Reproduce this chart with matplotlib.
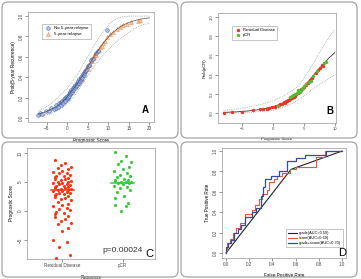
import numpy as np
import matplotlib
matplotlib.use("Agg")
import matplotlib.pyplot as plt
from matplotlib.patches import FancyBboxPatch
from matplotlib.transforms import IdentityTransform

# ---- panel A: logistic fit of 5-year recurrence ----
a_curve_x = [-7, -6, -5, -4, -3, -2, -1, 0, 1, 2, 3, 4, 5, 6, 7, 8, 9, 10, 11, 12, 13, 14, 15, 16, 17, 18, 20]
a_curve_y = [0.038, 0.049, 0.063, 0.081, 0.103, 0.131, 0.165, 0.206, 0.254, 0.308, 0.368, 0.433, 0.5,
             0.567, 0.632, 0.692, 0.746, 0.794, 0.835, 0.869, 0.897, 0.919, 0.937, 0.951, 0.962, 0.971, 0.983]
a_upper_y = [0.07, 0.09, 0.11, 0.14, 0.17, 0.21, 0.25, 0.29, 0.34, 0.40, 0.46, 0.53, 0.60,
             0.67, 0.74, 0.80, 0.86, 0.91, 0.95, 0.975, 0.99, 0.995, 1.0, 1.0, 1.0, 1.0, 1.0]
a_lower_y = [0.01, 0.02, 0.03, 0.04, 0.06, 0.08, 0.11, 0.14, 0.18, 0.23, 0.29, 0.35, 0.41,
             0.47, 0.53, 0.58, 0.63, 0.67, 0.71, 0.75, 0.78, 0.81, 0.84, 0.87, 0.89, 0.91, 0.93]
a_no_x = [-7.0, -6.6, -6.2, -5.1, -4.3, -3.8, -3.2, -2.8, -2.6, -2.2, -1.9, -1.5, -1.4, -1.2, -1.0, -0.8,
          -0.6, -0.5, -0.3, -0.1, 0.0, 0.2, 0.3, 0.4, 0.5, 0.7, 0.8, 0.9, 1.0, 1.1, 1.2, 1.4, 1.5, 1.7,
          1.8, 1.9, 2.0, 2.2, 2.4, 2.5, 2.6, 2.7, 2.9, 3.0, 3.2, 3.3, 3.4, 3.6, 3.8, 4.0, 4.1, 4.3, 4.6,
          5.0, 5.4, 5.8, 6.3, 6.9, 7.6, 9.7]
a_no_y = [0.03, 0.045, 0.04, 0.07, 0.065, 0.095, 0.09, 0.10, 0.125, 0.11, 0.145, 0.13, 0.155, 0.17, 0.15,
          0.185, 0.20, 0.17, 0.205, 0.19, 0.22, 0.20, 0.21, 0.235, 0.215, 0.25, 0.235, 0.24, 0.27, 0.26,
          0.25, 0.29, 0.27, 0.30, 0.31, 0.29, 0.325, 0.31, 0.345, 0.325, 0.34, 0.36, 0.345, 0.38, 0.36,
          0.38, 0.40, 0.39, 0.43, 0.42, 0.44, 0.46, 0.47, 0.51, 0.52, 0.57, 0.58, 0.64, 0.66, 0.86]
a_yes_x = [-1.0, 0.5, 1.3, 2.0, 2.6, 3.0, 3.4, 3.6, 3.8, 4.1, 4.4, 4.7, 4.9, 5.0, 5.2, 5.5, 5.7, 5.9, 6.0,
           6.2, 6.5, 6.6, 6.8, 7.0, 7.3, 7.7, 8.0, 8.4, 8.8, 9.2, 9.8, 10.5, 11.2, 12.0, 12.8, 13.5,
           14.5, 15.5, 17.3, 17.6]
a_yes_y = [0.17, 0.24, 0.27, 0.31, 0.35, 0.36, 0.41, 0.38, 0.42, 0.45, 0.46, 0.49, 0.50, 0.48, 0.52, 0.53,
           0.56, 0.58, 0.56, 0.59, 0.60, 0.62, 0.63, 0.62, 0.66, 0.67, 0.70, 0.71, 0.74, 0.76, 0.79, 0.82,
           0.84, 0.87, 0.89, 0.91, 0.925, 0.94, 0.955, 0.965]

# ---- panel B: logistic fit of pCR ----
b_curve_x = [-8, -6, -4, -2, 0, 1, 2, 3, 4, 5, 6, 7, 8, 9, 10]
b_curve_y = [0.01, 0.015, 0.025, 0.04, 0.07, 0.09, 0.12, 0.16, 0.21, 0.28, 0.35, 0.43, 0.50, 0.57, 0.63]
b_upper_y = [0.03, 0.045, 0.065, 0.09, 0.13, 0.16, 0.19, 0.23, 0.28, 0.36, 0.46, 0.57, 0.68, 0.78, 0.87]
b_lower_y = [0.0, 0.003, 0.008, 0.02, 0.03, 0.05, 0.07, 0.10, 0.14, 0.18, 0.23, 0.28, 0.32, 0.36, 0.40]
b_rd_x = [-8.0, -6.6, -5.0, -3.2, -2.1, -1.6, -1.0, -0.6, -0.2, 0.3, 1.0, 1.2, 1.5, 1.8, 2.0, 2.1, 2.2,
          2.4, 2.6, 2.7, 2.8, 3.0, 3.2, 3.4, 3.5, 3.6, 3.8, 4.0, 4.2, 4.4, 4.5, 4.6, 4.8, 5.0, 5.3, 5.6,
          6.0, 6.3, 7.0, 7.3, 7.6, 7.9, 8.1]
b_rd_y = [0.005, 0.012, 0.018, 0.03, 0.04, 0.045, 0.05, 0.06, 0.065, 0.07, 0.085, 0.10, 0.10, 0.12, 0.11,
          0.125, 0.13, 0.135, 0.14, 0.155, 0.15, 0.155, 0.17, 0.165, 0.18, 0.19, 0.20, 0.21, 0.22, 0.235,
          0.25, 0.24, 0.26, 0.27, 0.29, 0.31, 0.35, 0.37, 0.42, 0.45, 0.47, 0.50, 0.49]
b_pcr_x = [0.8, 2.8, 3.1, 3.3, 3.6, 3.9, 4.0, 4.1, 4.3, 4.5, 4.7, 4.9, 5.1, 5.4, 5.8, 6.1, 6.5, 7.2, 8.2, 8.6]
b_pcr_y = [0.08, 0.17, 0.18, 0.19, 0.20, 0.21, 0.24, 0.23, 0.22, 0.24, 0.25, 0.26, 0.28, 0.30, 0.33,
           0.34, 0.39, 0.44, 0.52, 0.53]

# ---- panel C: prognostic score by response ----
c_groups = ["Residual Disease", "pCR"]
c_rd = [8.8, 8.3, 7.9, 7.6, 7.4, 7.2, 7.0, 6.8, 6.6, 6.5, 6.3, 6.1, 6.0, 5.9, 5.7, 5.6, 5.5, 5.3, 5.2,
        5.1, 5.0, 4.9, 4.8, 4.7, 4.6, 4.5, 4.4, 4.3, 4.2, 4.1, 4.0, 3.9, 3.8, 3.8, 3.7, 3.6, 3.5, 3.4,
        3.3, 3.2, 3.1, 3.0, 2.9, 2.8, 2.6, 2.5, 2.3, 2.1, 1.9, 1.6, 1.3, 1.0, 0.8, 0.5, 0.3, 0.1,
        -0.2, -0.4, -0.6, -0.9, -1.1, -1.4, -1.7, -2.0, -2.3, -3.0, -3.4, -5.0, -5.3, -6.2, -7.6, -8.1]
c_pcr = [10.2, 9.6, 8.7, 8.4, 8.1, 7.6, 7.3, 7.0, 6.6, 6.3, 6.1, 5.8, 5.6, 5.4, 5.3, 5.2, 5.1, 5.0,
         5.0, 4.9, 4.8, 4.6, 4.4, 4.2, 4.0, 3.7, 3.3, 2.6, 2.2, 1.4, 1.0, 0.9, 0.0]
c_medians = [3.7, 4.9]
c_pvalue = "p=0.00024"

# ---- panel D: ROC curves ----
d_grade_fpr = [0.0, 0.56, 1.0]
d_grade_tpr = [0.0, 0.82, 1.0]
d_score_fpr = [0, 0, 0.01, 0.01, 0.03, 0.03, 0.06, 0.06, 0.09, 0.09, 0.12, 0.12, 0.16, 0.16, 0.22, 0.22,
               0.25, 0.25, 0.28, 0.28, 0.31, 0.31, 0.35, 0.35, 0.37, 0.37, 0.41, 0.41, 0.44, 0.44, 0.48,
               0.48, 0.55, 0.55, 0.60, 0.60, 0.78, 0.78, 0.85, 0.85, 1.0]
d_score_tpr = [0, 0.03, 0.03, 0.10, 0.10, 0.14, 0.14, 0.20, 0.20, 0.24, 0.24, 0.29, 0.29, 0.38, 0.38,
               0.42, 0.42, 0.47, 0.47, 0.53, 0.53, 0.58, 0.58, 0.62, 0.62, 0.70, 0.70, 0.73, 0.73, 0.76,
               0.76, 0.78, 0.78, 0.82, 0.82, 0.84, 0.84, 0.94, 0.94, 1.0, 1.0]
d_both_fpr = [0, 0, 0.02, 0.02, 0.04, 0.04, 0.07, 0.07, 0.10, 0.10, 0.13, 0.13, 0.16, 0.16, 0.22, 0.22,
              0.26, 0.26, 0.30, 0.30, 0.32, 0.32, 0.34, 0.34, 0.39, 0.39, 0.46, 0.46, 0.53, 0.53, 0.60,
              0.60, 0.68, 0.68, 0.86, 0.86, 1.0]
d_both_tpr = [0, 0.06, 0.06, 0.10, 0.10, 0.13, 0.13, 0.20, 0.20, 0.23, 0.23, 0.27, 0.27, 0.35, 0.35,
              0.40, 0.40, 0.44, 0.44, 0.56, 0.56, 0.65, 0.65, 0.73, 0.73, 0.76, 0.76, 0.80, 0.80, 0.90,
              0.90, 0.93, 0.93, 0.96, 0.96, 1.0, 1.0]
d_labels = ["grade(AUC=0.59)", "score(AUC=0.69)", "grade+score(AUC=0.70)"]

plt.rcParams['font.family'] = ['Liberation Sans', 'DejaVu Sans']
W, H = 361, 279
fig = plt.figure(figsize=(W / 100, H / 100), dpi=100)

def px_axes(l, t, r, b):
    return fig.add_axes([l / W, 1 - b / H, (r - l) / W, (b - t) / H])

def style(ax, fs=3.3):
    for s in ax.spines.values():
        s.set_color('#999999')
        s.set_linewidth(0.5)
    ax.tick_params(length=2, width=0.4, pad=1, labelsize=fs, colors='#444444')
    for lab in ax.get_yticklabels():
        lab.set_rotation(90)
        lab.set_va('center')

# panel frames
for (l, t, r, b) in [(2, 2, 178, 138), (181, 2, 357, 138), (2, 142, 178, 277), (181, 142, 357, 277)]:
    fig.patches.append(FancyBboxPatch((l, H - b), r - l, b - t, boxstyle="round,pad=0,rounding_size=6",
                                      transform=IdentityTransform(), fill=False,
                                      edgecolor='#a5a5a5', linewidth=0.9))

# A
ax = px_axes(28, 12, 154, 122)
ax.plot(a_curve_x, a_upper_y, ls=':', color='#777777', lw=0.5)
ax.plot(a_curve_x, a_lower_y, ls=':', color='#777777', lw=0.5)
ax.scatter(a_yes_x, a_yes_y, marker='^', s=8, facecolor='#f6c080', edgecolor='#ee7a40', lw=0.4,
           alpha=0.8, label='5-year relapse', zorder=3)
ax.scatter(a_no_x, a_no_y, marker='o', s=7, facecolor='#9fb3e0', edgecolor='#2f56b0', lw=0.4,
           alpha=0.8, label='No 5-year relapse', zorder=3)
ax.plot(a_curve_x, a_curve_y, color='#555555', lw=0.5, zorder=4)
ax.set_xlim(-9.5, 21.1)
ax.set_ylim(-0.04, 1.04)
ax.set_xticks([-5, 0, 5, 10, 15, 20])
ax.set_yticks([0.0, 0.2, 0.4, 0.6, 0.8, 1.0])
ax.set_xlabel('Prognostic Score', fontsize=3.3, labelpad=5)
ax.set_ylabel('Prob(5-year Recurrence)', fontsize=3.3, labelpad=2)
h, lb = ax.get_legend_handles_labels()
ax.legend(h[::-1], lb[::-1], loc='upper left', bbox_to_anchor=(0.09, 0.91), fontsize=3.2,
          frameon=True, fancybox=False, edgecolor='#999999', framealpha=1, handletextpad=0.3,
          borderpad=0.5, labelspacing=0.4, markerscale=1.0).get_frame().set_linewidth(0.4)
ax.text(0.93, 0.08, 'A', transform=ax.transAxes, fontsize=7, fontweight='bold', ha='center')
style(ax)

# B
ax = px_axes(218, 13, 336, 123)
ax.plot(b_curve_x, b_upper_y, ls=':', color='#888888', lw=0.5)
ax.plot(b_curve_x, b_lower_y, ls=':', color='#888888', lw=0.5)
ax.plot(b_curve_x, b_curve_y, color='#333333', lw=0.6, zorder=2)
ax.scatter(b_rd_x, b_rd_y, marker='o', s=6, color='#ee3322', lw=0, label='Residual Disease', zorder=3)
ax.scatter(b_pcr_x, b_pcr_y, marker='o', s=6, color='#55bb33', lw=0, label='pCR', zorder=3)
ax.set_xlim(-8.9, 10.2)
ax.set_ylim(-0.1, 1.04)
ax.set_xticks([-5, 0, 5, 10])
ax.set_yticks([0.0, 0.2, 0.4, 0.6, 0.8, 1.0])
ax.set_xlabel('Prognostic Score', fontsize=3.0, labelpad=4)
ax.set_ylabel('Prob(pCR)', fontsize=3.0, labelpad=2)
ax.legend(loc='upper left', bbox_to_anchor=(0.1, 0.9), fontsize=3.0, frameon=True, fancybox=False,
          edgecolor='#999999', framealpha=1, handletextpad=0.2, borderpad=0.5,
          labelspacing=0.3).get_frame().set_linewidth(0.4)
ax.text(0.95, 0.08, 'B', transform=ax.transAxes, fontsize=7, fontweight='bold', ha='center')
style(ax, 3.0)

# C
ax = px_axes(27, 148, 155, 259)
jit = [-0.12, 0.05, -0.03, 0.14, -0.08, 0.10, 0.0, -0.15, 0.07, -0.05, 0.12, -0.10, 0.03, -0.13, 0.09]
for i, (vals, col) in enumerate([(c_rd, '#ff3311'), (c_pcr, '#33cc33')]):
    xs = [i + 1 + jit[k % len(jit)] for k in range(len(vals))]
    ax.scatter(xs, vals, s=5, color=col, lw=0, zorder=3)
    ax.plot([i + 1 - 0.19, i + 1 + 0.19], [c_medians[i]] * 2, color=col, lw=1.1, zorder=4)
ax.set_xlim(0.41, 2.54)
ax.set_ylim(-8.3, 10.9)
ax.set_xticks([1, 2])
ax.set_xticklabels(c_groups)
ax.set_yticks([-5, 0, 5, 10])
ax.set_xlabel('Response', fontsize=3.3, labelpad=5)
ax.set_ylabel('Prognostic Score', fontsize=3.3, labelpad=3)
ax.text(0.75, 0.06, c_pvalue, transform=ax.transAxes, fontsize=6, ha='center', color='#333333')
ax.text(0.96, 0.02, 'C', transform=ax.transAxes, fontsize=8, ha='center')
style(ax)

# D
ax = px_axes(222, 148, 346, 258)
ax.plot(d_grade_fpr, d_grade_tpr, color='#222222', lw=0.8, label=d_labels[0])
ax.plot(d_score_fpr, d_score_tpr, color='#e8553a', lw=0.8, label=d_labels[1])
ax.plot(d_both_fpr, d_both_tpr, color='#2f4f9f', lw=0.9, label=d_labels[2])
ax.set_xlim(-0.035, 1.035)
ax.set_ylim(-0.05, 1.03)
ax.set_xticks([0.0, 0.2, 0.4, 0.6, 0.8, 1.0])
ax.set_yticks([0.0, 0.2, 0.4, 0.6, 0.8, 1.0])
ax.set_xlabel('False Positive Rate', fontsize=3.3, labelpad=4)
ax.set_ylabel('True Positive Rate', fontsize=3.3, labelpad=2)
ax.legend(loc='lower right', bbox_to_anchor=(0.995, 0.08), fontsize=2.8, frameon=True, fancybox=False,
          edgecolor='#999999', framealpha=1, handlelength=2.5, handletextpad=0.5, borderpad=0.5,
          labelspacing=0.3).get_frame().set_linewidth(0.4)
ax.text(0.97, 0.02, 'D', transform=ax.transAxes, fontsize=8, ha='center')
style(ax)

fig.savefig('out.png', dpi=100)
